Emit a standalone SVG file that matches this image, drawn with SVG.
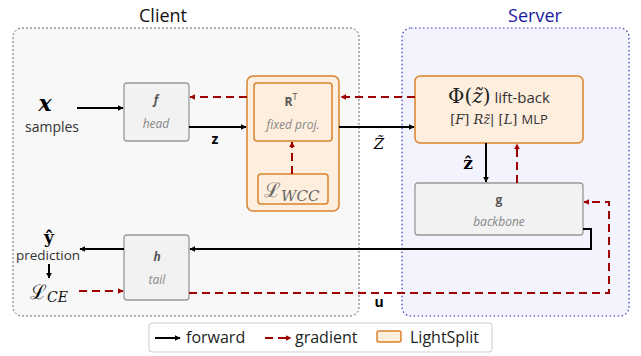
<svg xmlns="http://www.w3.org/2000/svg" width="641" height="356" viewBox="0 0 641 356">
<style>
.sans{font-family:"Open Sans","Noto Sans","Liberation Sans",sans-serif}
.math{font-family:"DejaVu Serif","Liberation Serif",serif}
.blk{fill:#f2f2f2;stroke:#999;stroke-width:1.3}
.ls{fill:#fdeede;stroke:#d9822b;stroke-width:1.5}
.fw{stroke:#000;stroke-width:2;fill:none}
.gr{stroke:#a00000;stroke-width:2;fill:none;stroke-dasharray:8,5}
.name{font-weight:bold;font-size:12px;fill:#555;text-anchor:middle}
.sub{font-style:italic;font-size:12px;fill:#888;text-anchor:middle}
</style>
<defs>
<marker id="ab" viewBox="0 0 10 10" refX="9" refY="5" markerWidth="6" markerHeight="6" orient="auto" markerUnits="userSpaceOnUse"><path d="M0,0 L10,5 L0,10 z" fill="#000"/></marker>
<marker id="ar" viewBox="0 0 10 10" refX="9" refY="5" markerWidth="6" markerHeight="6" orient="auto" markerUnits="userSpaceOnUse"><path d="M0,0 L10,5 L0,10 z" fill="#a00000"/></marker>
</defs>
<rect width="641" height="356" fill="#fff"/>
<g id="client">
<rect x="13" y="28" width="346" height="288" rx="9" fill="#f8f8f8" stroke="#666" stroke-width="1" stroke-dasharray="2,2"/>
<text x="163" y="22" class="sans" font-size="18" text-anchor="middle" fill="#111">Client</text>
</g>
<g id="server">
<rect x="402" y="28" width="227" height="288" rx="9" fill="#f3f3fd" stroke="#3333bb" stroke-width="1.2" stroke-dasharray="1.5,2.5"/>
<text x="535" y="22" class="sans" font-size="18" text-anchor="middle" fill="#1a1aa0">Server</text>
</g>
<g id="input">
<text x="45" y="111" class="math" font-size="22" font-weight="bold" font-style="italic" text-anchor="middle">x</text>
<text x="52" y="132" class="sans" font-size="14" fill="#333" text-anchor="middle">samples</text>
</g>
<g id="head">
<rect x="124" y="83" width="65" height="58" rx="3" class="blk"/>
<text x="156" y="104" class="sans name" font-style="italic" fill="#222">f</text>
<text x="156" y="128" class="sans sub">head</text>
</g>
<g id="lightsplit">
<rect x="247" y="76" width="92" height="135" rx="6" class="ls"/>
</g>
<g id="proj">
<rect x="254" y="83" width="78" height="58" rx="3" class="ls" stroke-width="1.2"/>
<text x="291" y="106" class="sans name" font-size="14">R<tspan font-size="9" font-weight="normal" dy="-6">T</tspan></text>
<text x="293" y="129" class="sans sub" font-size="12.5">fixed proj.</text>
</g>
<g id="lwcc">
<rect x="258" y="174" width="70" height="30" rx="3" class="ls" stroke-width="1.2"/>
<text x="264" y="197" class="math" font-size="20" fill="#666">ℒ<tspan font-size="15" font-style="italic" dy="4">WCC</tspan></text>
</g>
<g id="liftback">
<rect x="415" y="76" width="168" height="67" rx="5" class="ls"/>
<text x="499" y="103" text-anchor="middle" fill="#222"><tspan class="math" font-size="20">Φ(<tspan font-style="italic">z̃</tspan>)</tspan><tspan class="sans" font-size="15" fill="#333"> lift-back</tspan></text>
<text x="499" y="124" text-anchor="middle" fill="#333"><tspan class="math" font-size="13">[<tspan font-style="italic">F</tspan>] <tspan font-style="italic">Rz̃</tspan>| [<tspan font-style="italic">L</tspan>] </tspan><tspan class="sans" font-size="13">MLP</tspan></text>
</g>
<g id="backbone">
<rect x="415" y="183" width="168" height="52" rx="3" class="blk"/>
<text x="499" y="204" class="sans name" font-size="13">g</text>
<text x="499" y="226" class="sans sub" font-size="12.5">backbone</text>
</g>
<g id="tail">
<rect x="124" y="235" width="65" height="65" rx="3" class="blk"/>
<text x="157" y="261" class="sans name" font-style="italic" fill="#222">h</text>
<text x="157" y="284" class="sans sub">tail</text>
</g>
<g id="output">
<text x="49" y="243" class="math" font-size="17" font-weight="bold" text-anchor="middle">ŷ</text>
<text x="48" y="260" class="sans" font-size="13.5" fill="#333" text-anchor="middle">prediction</text>
<text x="30" y="299" class="math" font-size="20" fill="#111">ℒ<tspan font-size="14" font-style="italic" dy="3">CE</tspan></text>
</g>
<g id="connectors">
<line x1="77" y1="108" x2="123" y2="108" class="fw" marker-end="url(#ab)"/>
<line x1="189" y1="127" x2="246" y2="127" class="fw" marker-end="url(#ab)"/>
<text x="215" y="144" class="sans" font-size="14" font-weight="bold" text-anchor="middle">z</text>
<line x1="339" y1="127" x2="414" y2="127" class="fw" marker-end="url(#ab)"/>
<text x="379" y="149" class="math" font-size="15" font-style="italic" text-anchor="middle">Z̃</text>
<line x1="415" y1="97" x2="341" y2="97" class="gr" marker-end="url(#ar)"/>
<line x1="247" y1="97" x2="190" y2="97" class="gr" marker-end="url(#ar)"/>
<line x1="292" y1="174" x2="292" y2="142" class="gr" marker-end="url(#ar)"/>
<line x1="486" y1="143" x2="486" y2="182" class="fw" marker-end="url(#ab)"/>
<text x="468" y="169" class="math" font-size="17" font-weight="bold" text-anchor="middle">ẑ</text>
<line x1="517" y1="183" x2="517" y2="144" class="gr" marker-end="url(#ar)"/>
<polyline points="583,229 591,229 591,249 190,249" class="fw" marker-end="url(#ab)"/>
<line x1="124" y1="249" x2="80" y2="249" class="fw" marker-end="url(#ab)"/>
<line x1="49" y1="264" x2="49" y2="278" class="fw" marker-end="url(#ab)"/>
<line x1="79" y1="291" x2="123" y2="291" class="gr" marker-end="url(#ar)"/>
<polyline points="189,293 609,293 609,202 584,202" class="gr" marker-end="url(#ar)"/>
<text x="379" y="307" class="sans" font-size="14" font-weight="bold" text-anchor="middle">u</text>
</g>
<g id="legend">
<rect x="149" y="323" width="343" height="29" rx="3" fill="#fff" stroke="#ccc"/>
<line x1="155" y1="338" x2="180" y2="338" class="fw" marker-end="url(#ab)"/>
<text x="186" y="343" class="sans" font-size="16" fill="#222">forward</text>
<line x1="265" y1="338" x2="291" y2="338" class="gr" stroke-dasharray="6,5" marker-end="url(#ar)"/>
<text x="295" y="343" class="sans" font-size="16" fill="#222">gradient</text>
<rect x="377" y="331" width="24" height="11" rx="2" class="ls"/>
<text x="410" y="343" class="sans" font-size="16" fill="#222">LightSplit</text>
</g>
</svg>
